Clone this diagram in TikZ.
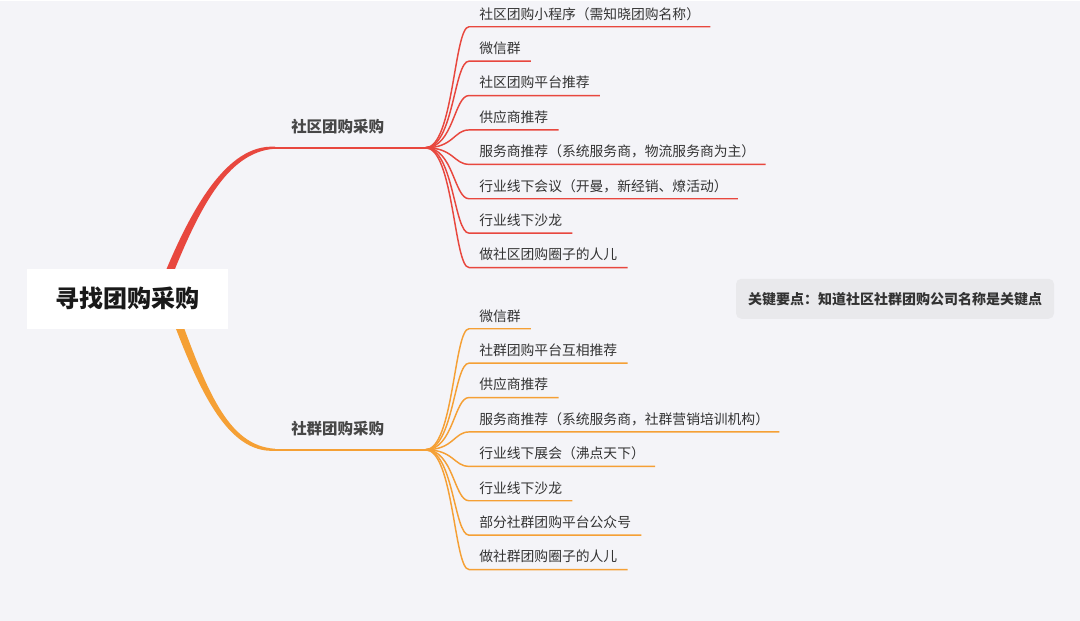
\documentclass[tikz,border=0pt]{standalone}
\usepackage{fontspec}
\setmainfont{Noto Sans CJK SC}
\usetikzlibrary{positioning}
\definecolor{bgpage}{HTML}{F4F4F8}
\definecolor{mapred}{HTML}{E8473E}
\definecolor{maporange}{HTML}{F5A035}
\definecolor{mapnote}{HTML}{E9E9EC}
\definecolor{maptext}{HTML}{333333}

\begin{document}
\begin{tikzpicture}[
  x=0.75pt,y=0.75pt,
  rootbox/.style={rectangle,fill=white,minimum width=150.75pt,minimum height=45pt,font=\fontsize{18pt}{20pt}\selectfont\bfseries,text=black!90},
  branch/.style={rectangle,anchor=south west,text width=88.5pt,align=left,inner xsep=12pt,inner ysep=11.3pt,text depth=0pt,font=\fontsize{11.6pt}{13pt}\selectfont\bfseries,text=maptext!90},
  leaf/.style={rectangle,anchor=south west,inner xsep=7.5pt,inner ysep=5.5pt,text depth=0pt,font=\fontsize{10.35pt}{12pt}\selectfont,text=maptext},
  nextleaf/.style={below=25.8pt of #1.south west,anchor=south west},
  notebox/.style={rectangle,rounded corners=4pt,fill=mapnote,minimum width=238.5pt,minimum height=30pt,font=\fontsize{10.5pt}{12pt}\selectfont\bfseries,text=maptext},
  redtwig/.style={draw=mapred,line width=1.1pt},
  orangetwig/.style={draw=maporange,line width=1.1pt}
]

% Page
\fill[bgpage] (0,0) rectangle (1080,-620);

% Trunk starts (hidden under the root box)
\coordinate (sqroot) at (162,-290);
\coordinate (sgroot) at (172,-306);

% Branches
\node[branch] (sq) at (275,-147) {社区团购采购};
\node[branch] (sg) at (275,-449) {社群团购采购};

% Community group buying
\node[leaf] (sq1) at (469,-26) {社区团购小程序（需知晓团购名称）};
\node[leaf,nextleaf=sq1] (sq2) {微信群};
\node[leaf,nextleaf=sq2] (sq3) {社区团购平台推荐};
\node[leaf,nextleaf=sq3] (sq4) {供应商推荐};
\node[leaf,nextleaf=sq4] (sq5) {服务商推荐（系统服务商，物流服务商为主）};
\node[leaf,nextleaf=sq5] (sq6) {行业线下会议（开曼，新经销、燎活动）};
\node[leaf,nextleaf=sq6] (sq7) {行业线下沙龙};
\node[leaf,nextleaf=sq7] (sq8) {做社区团购圈子的人儿};

% Social group buying
\node[leaf] (sg1) at (469,-328) {微信群};
\node[leaf,nextleaf=sg1] (sg2) {社群团购平台互相推荐};
\node[leaf,nextleaf=sg2] (sg3) {供应商推荐};
\node[leaf,nextleaf=sg3] (sg4) {服务商推荐（系统服务商，社群营销培训机构）};
\node[leaf,nextleaf=sg4] (sg5) {行业线下展会（沸点天下）};
\node[leaf,nextleaf=sg5] (sg6) {行业线下沙龙};
\node[leaf,nextleaf=sg6] (sg7) {部分社群团购平台公众号};
\node[leaf,nextleaf=sg7] (sg8) {做社群团购圈子的人儿};

% Note
\node[notebox] (note) at (895,-298) {关键要点：知道社区社群团购公司名称是关键点};

% Trunks
\fill[mapred] ([xshift=-3.2pt]sqroot) .. controls +(32,82) and +(-48,3) .. ([yshift=0.75pt]sq.south west)
  -- ([yshift=-0.75pt]sq.south west) .. controls +(-48,-3) and +(32,82) .. ([xshift=3.2pt]sqroot) -- cycle;
\fill[maporange] ([xshift=-3.2pt]sgroot) .. controls +(30,-82) and +(-48,-3) .. ([yshift=-0.75pt]sg.south west)
  -- ([yshift=0.75pt]sg.south west) .. controls +(-48,3) and +(30,-82) .. ([xshift=3.2pt]sgroot) -- cycle;
\draw[mapred,line width=1.5pt] (sq.south west) -- (sq.south east);
\draw[maporange,line width=1.5pt] (sg.south west) -- (sg.south east);

% Twigs
\draw[redtwig] (sq.south east) .. controls +(28,0) and +(-15,0) .. (sq1.south west) -- (sq1.south east);
\draw[redtwig] (sq.south east) .. controls +(28,0) and +(-15,0) .. (sq2.south west) -- (sq2.south east);
\draw[redtwig] (sq.south east) .. controls +(28,0) and +(-15,0) .. (sq3.south west) -- (sq3.south east);
\draw[redtwig] (sq.south east) .. controls +(28,0) and +(-15,0) .. (sq4.south west) -- (sq4.south east);
\draw[redtwig] (sq.south east) .. controls +(28,0) and +(-15,0) .. (sq5.south west) -- (sq5.south east);
\draw[redtwig] (sq.south east) .. controls +(28,0) and +(-15,0) .. (sq6.south west) -- (sq6.south east);
\draw[redtwig] (sq.south east) .. controls +(28,0) and +(-15,0) .. (sq7.south west) -- (sq7.south east);
\draw[redtwig] (sq.south east) .. controls +(28,0) and +(-15,0) .. (sq8.south west) -- (sq8.south east);

\draw[orangetwig] (sg.south east) .. controls +(28,0) and +(-15,0) .. (sg1.south west) -- (sg1.south east);
\draw[orangetwig] (sg.south east) .. controls +(28,0) and +(-15,0) .. (sg2.south west) -- (sg2.south east);
\draw[orangetwig] (sg.south east) .. controls +(28,0) and +(-15,0) .. (sg3.south west) -- (sg3.south east);
\draw[orangetwig] (sg.south east) .. controls +(28,0) and +(-15,0) .. (sg4.south west) -- (sg4.south east);
\draw[orangetwig] (sg.south east) .. controls +(28,0) and +(-15,0) .. (sg5.south west) -- (sg5.south east);
\draw[orangetwig] (sg.south east) .. controls +(28,0) and +(-15,0) .. (sg6.south west) -- (sg6.south east);
\draw[orangetwig] (sg.south east) .. controls +(28,0) and +(-15,0) .. (sg7.south west) -- (sg7.south east);
\draw[orangetwig] (sg.south east) .. controls +(28,0) and +(-15,0) .. (sg8.south west) -- (sg8.south east);

% Root
\node[rootbox] (root) at (127.5,-298) {寻找团购采购};

\end{tikzpicture}
\end{document}
